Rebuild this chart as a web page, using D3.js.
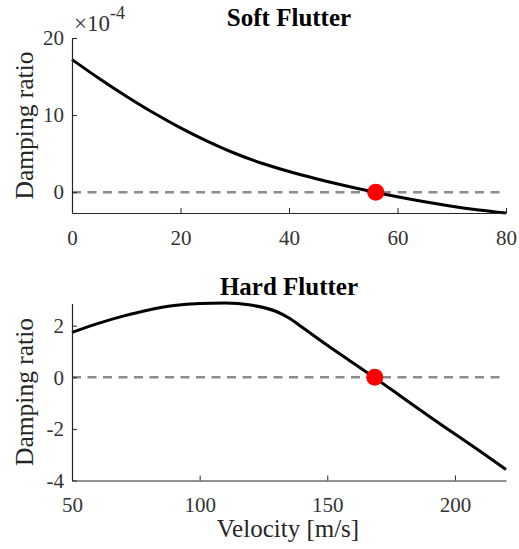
<!DOCTYPE html>
<html lang="en">
<head>
    <meta charset="UTF-8">
    <script src="https://d3js.org/d3.v7.min.js"></script>
    <title>Flutter</title>
    <style>
        body { margin: 0; background: white; }
        text { font-family: "Liberation Serif", "Times New Roman", serif; }
    </style>
</head>
<body>
    <svg id="svg" width="519" height="549"></svg>
    <script>
        // soft flutter (damping ratio in units of 1e-4)
        const softV = [0, 5, 10, 15, 20, 25, 30, 35, 40, 45, 50, 55, 60, 65, 70, 75, 80]
        const softD = [17.2, 14.75, 12.45, 10.3, 8.35, 6.6, 5.05, 3.75, 2.68, 1.75, 0.9, 0.12, -0.6, -1.25, -1.82, -2.3, -2.7]
        const softFlutter = [56.0, 0]

        // hard flutter
        const hardV = [50, 60, 70, 80, 90, 100, 110, 120, 130, 135, 140, 150, 160, 170, 180, 190, 200, 210, 220]
        const hardD = [1.74, 2.08, 2.37, 2.61, 2.78, 2.86, 2.88, 2.80, 2.55, 2.30, 1.95, 1.24, 0.56, -0.12, -0.82, -1.52, -2.2, -2.88, -3.57]
        const hardFlutter = [168.6, 0]

        const softXTicks = [0, 20, 40, 60, 80]
        const softYTicks = [0, 10, 20]
        const hardXTicks = [50, 100, 150, 200]
        const hardYTicks = [-4, -2, 0, 2]

        const svg = d3.select("#svg")
        const axisColor = "#262626"

        const drawPanel = (opts) => {
            const x = d3.scaleLinear().domain(opts.xDomain).range([72, 506])
            const y = d3.scaleLinear().domain(opts.yDomain).range(opts.yRange)
            const g = svg.append("g")

            // zero reference line
            g.append("line")
                .attr("x1", x(opts.xDomain[0])).attr("x2", x(opts.xDomain[1]))
                .attr("y1", y(0)).attr("y2", y(0))
                .attr("stroke", "#8c8c8c")
                .attr("stroke-width", 2.5)
                .attr("stroke-dasharray", "9,6.5")

            const pts = opts.v.map((v, i) => [v, opts.d[i]])
            g.append("path")
                .datum(pts)
                .attr("fill", "none")
                .attr("stroke", "black")
                .attr("stroke-width", 3)
                .attr("d", d3.line()
                    .x(d => x(d[0]))
                    .y(d => y(d[1]))
                    .curve(d3.curveMonotoneX))

            g.append("circle")
                .attr("cx", x(opts.dot[0]))
                .attr("cy", y(opts.dot[1]))
                .attr("r", 8.5)
                .attr("fill", "#ff0000")

            const fmt = d => String(d)
            const xAxis = g.append("g")
                .attr("transform", `translate(0, ${opts.yRange[0]})`)
                .call(d3.axisBottom(x).tickValues(opts.xTicks).tickFormat(fmt)
                    .tickSizeInner(-5).tickSizeOuter(0).tickPadding(17))
            const yAxis = g.append("g")
                .attr("transform", `translate(72, 0)`)
                .call(d3.axisLeft(y).tickValues(opts.yTicks).tickFormat(fmt)
                    .tickSizeInner(-5).tickSizeOuter(0).tickPadding(8))

            for (const a of [xAxis, yAxis]) {
                a.select(".domain").attr("stroke", axisColor).attr("stroke-width", 1.2)
                a.selectAll(".tick line").attr("stroke", axisColor).attr("stroke-width", 1)
                a.selectAll(".tick text")
                    .attr("fill", "#333")
                    .style("font-size", "21px")
                    .style("font-family", "Liberation Serif")
            }

            g.append("text")
                .attr("x", 289).attr("y", opts.titleY)
                .attr("text-anchor", "middle")
                .attr("font-weight", "bold")
                .style("font-size", "25px")
                .text(opts.title)

            const cy = (opts.yRange[0] + opts.yRange[1]) / 2
            g.append("text")
                .attr("transform", `translate(33, ${cy}) rotate(-90)`)
                .attr("text-anchor", "middle")
                .attr("fill", "#262626")
                .style("font-size", "25.5px")
                .text("Damping ratio")
        }

        drawPanel({
            v: softV, d: softD, dot: softFlutter,
            xDomain: [0, 80], yDomain: [-2.7, 20], yRange: [213, 38],
            xTicks: softXTicks, yTicks: softYTicks,
            title: "Soft Flutter", titleY: 26
        })

        drawPanel({
            v: hardV, d: hardD, dot: hardFlutter,
            xDomain: [50, 220], yDomain: [-4, 2.86], yRange: [480.5, 303.5],
            xTicks: hardXTicks, yTicks: hardYTicks,
            title: "Hard Flutter", titleY: 295
        })

        // exponent label
        const expo = svg.append("text")
            .attr("x", 74).attr("y", 31)
            .attr("fill", "#333")
            .style("font-size", "23px")
        expo.append("tspan").text("\u00d710")
        expo.append("tspan").attr("dy", -12).style("font-size", "18px").text("-4")

        svg.append("text")
            .attr("x", 288).attr("y", 537)
            .attr("text-anchor", "middle")
            .attr("fill", "#262626")
            .style("font-size", "25px")
            .text("Velocity [m/s]")
    </script>
</body>
</html>
